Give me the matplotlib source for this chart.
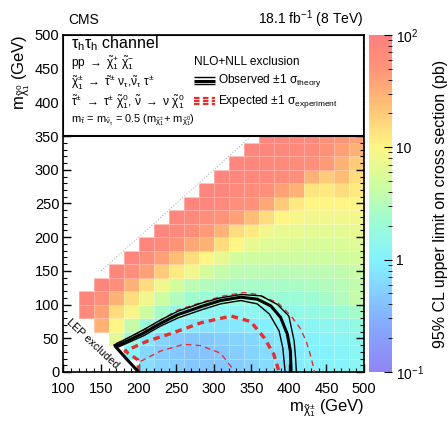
import numpy as np
import matplotlib
matplotlib.use("Agg")
import matplotlib.pyplot as plt
import matplotlib.patches as patches
from matplotlib.colors import LinearSegmentedColormap, LogNorm

plt.rcParams['font.family'] = ['Liberation Sans', 'DejaVu Sans']
plt.rcParams['mathtext.fontset'] = 'custom'
plt.rcParams['mathtext.rm'] = 'Liberation Sans'
plt.rcParams['mathtext.it'] = 'Liberation Sans'
plt.rcParams['mathtext.default'] = 'regular'

# bin edges (GeV)
chargino_edges = list(range(100, 520, 20))
neutralino_edges = list(range(0, 380, 20))

n = np.nan
# upper limit on cross section (pb), one row per neutralino bin (0 .. 340 GeV)
limits = [
    [n, n, n, n, n, 0.7, 0.55, 0.5, 0.45, 0.45, 0.45, 0.5, 0.55, 0.65, 0.75, 0.85, 0.95, 1.0, 1.1, 1.2],
    [n, n, n, n, 1.0, 0.6, 0.5, 0.45, 0.42, 0.42, 0.45, 0.5, 0.55, 0.65, 0.75, 0.85, 0.95, 1.0, 1.1, 1.2],
    [n, n, n, 6, 1.8, 0.8, 0.55, 0.5, 0.45, 0.45, 0.5, 0.55, 0.6, 0.7, 0.8, 0.9, 1.0, 1.1, 1.2, 1.3],
    [n, n, 30, 10, 4, 2.0, 1.2, 0.9, 0.8, 0.75, 0.75, 0.8, 0.85, 0.9, 1.0, 1.1, 1.2, 1.3, 1.4, 1.6],
    [n, 70, 40, 15, 9, 4.5, 2.5, 1.6, 1.3, 1.2, 1.2, 1.2, 1.3, 1.3, 1.4, 1.5, 1.6, 1.8, 2.0, 2.5],
    [n, 80, 60, 30, 15, 8, 4.5, 3, 2.3, 2.0, 1.9, 1.9, 1.9, 2.0, 2.0, 2.1, 2.2, 2.5, 3.0, 4.0],
    [n, n, 80, 60, 30, 15, 8, 5, 3.5, 3, 2.8, 2.6, 2.6, 2.6, 2.6, 2.7, 2.8, 3.0, 3.3, 3.8],
    [n, n, n, 80, 60, 40, 20, 12, 8, 5, 4, 3.5, 3.5, 3.4, 3.4, 3.5, 3.5, 3.6, 3.8, 4.2],
    [n, n, n, n, 80, 60, 40, 25, 15, 10, 7, 5, 4.5, 4.5, 4.5, 4.5, 4.5, 4.5, 4.8, 5],
    [n, n, n, n, n, 80, 70, 50, 35, 30, 15, 10, 7, 6, 6, 5.5, 5.5, 5.5, 5.5, 6],
    [n, n, n, n, n, n, 80, 70, 60, 45, 30, 15, 12, 8, 7, 7, 6.5, 6.5, 6.5, 7],
    [n, n, n, n, n, n, n, 80, 70, 60, 50, 40, 25, 15, 10, 9, 8, 8, 8, 8],
    [n, n, n, n, n, n, n, n, 80, 80, 70, 60, 55, 35, 20, 12, 10, 10, 10, 10],
    [n, n, n, n, n, n, n, n, n, 80, 80, 70, 65, 60, 40, 30, 13, 12, 15, 12],
    [n, n, n, n, n, n, n, n, n, n, 80, 80, 75, 70, 65, 60, 30, 20, 25, 15],
    [n, n, n, n, n, n, n, n, n, n, n, 80, 80, 75, 70, 65, 60, 45, 30, 20],
    [n, n, n, n, n, n, n, n, n, n, n, n, 80, 80, 75, 70, 65, 55, 40, 30],
    [n, n, n, n, n, n, n, n, n, n, n, n, n, 80, 80, 75, 70, 60, 50, 40],
]

# exclusion contours (m_chargino, m_neutralino) in GeV
obs_x = [200, 185, 169, 185, 207, 229, 252, 283, 309, 336, 358, 376, 389, 398, 402, 403]
obs_y = [0, 18, 38, 46, 58, 72, 85, 97, 106, 111, 108, 98, 81, 56, 31, 0]
obs_up_x = [200, 185, 167, 185, 207, 229, 252, 283, 309, 336, 363, 385, 400, 407, 409, 410]
obs_up_y = [0, 18, 40, 50, 63, 77, 90, 102, 110, 115, 113, 100, 83, 46, 20, 0]
obs_dn_x = [200, 185, 171, 185, 207, 229, 252, 283, 309, 336, 358, 374, 387, 392, 395]
obs_dn_y = [0, 18, 36, 43, 54, 68, 80, 92, 101, 106, 101, 86, 61, 35, 0]
exp_x = [200, 199, 182, 212, 243, 283, 323, 349, 367, 380, 387]
exp_y = [0, 18, 31, 46, 57, 73, 83, 75, 51, 26, 0]
exp_up_x = [170, 207, 252, 309, 340, 358, 385, 403, 415, 423, 430, 434]
exp_up_y = [42, 62, 92, 112, 118, 115, 103, 83, 65, 46, 20, 0]
exp_dn_x = [199, 203, 229, 260, 283, 309, 323, 326]
exp_dn_y = [2, 16, 31, 41, 39, 28, 8, 0]

cmap = LinearSegmentedColormap.from_list("pastel_rainbow", [
    (0.00, (0.56, 0.52, 0.95)),
    (0.15, (0.52, 0.68, 1.00)),
    (0.33, (0.52, 0.95, 1.00)),
    (0.45, (0.62, 0.99, 0.82)),
    (0.56, (0.82, 0.99, 0.62)),
    (0.67, (1.00, 0.96, 0.52)),
    (0.80, (1.00, 0.74, 0.46)),
    (0.90, (1.00, 0.58, 0.47)),
    (1.00, (1.00, 0.50, 0.50)),
])

fig = plt.figure(figsize=(4.48, 4.34), dpi=100)
ax = fig.add_axes([0.1417, 0.1429, 0.6708, 0.7765])
cax = fig.add_axes([0.8237, 0.1429, 0.0513, 0.7765])

Z = np.ma.masked_invalid(np.array(limits))
mesh = ax.pcolormesh(chargino_edges, neutralino_edges, Z, cmap=cmap,
                     norm=LogNorm(vmin=0.1, vmax=100),
                     edgecolors=(1, 1, 1, 0.3), linewidth=0.4, zorder=1)

# m_chi0 = m_chi+- diagonal
ax.plot([150, 350], [150, 350], color='#bbbbbb', ls=':', lw=0.8, zorder=2)

red = '#e3302b'
ax.plot(exp_up_x, exp_up_y, color=red, lw=1.0, dashes=(4, 3), zorder=3)
ax.plot(exp_dn_x, exp_dn_y, color=red, lw=1.0, dashes=(4, 3), zorder=3)
ax.plot(exp_x, exp_y, color=red, lw=2.4, dashes=(2, 1.5), zorder=3)
ax.plot(obs_up_x, obs_up_y, color='black', lw=1.0, zorder=4)
ax.plot(obs_dn_x, obs_dn_y, color='black', lw=1.0, zorder=4)
ax.plot(obs_x, obs_y, color='black', lw=2.2, zorder=4)

ax.text(139, 42, "LEP excluded", rotation=-43, fontsize=7.8, ha='center', va='center', zorder=4)

ax.set_xlim(100, 500)
ax.set_ylim(0, 500)
ax.set_xticks(range(100, 550, 50))
ax.set_yticks(range(0, 550, 50))
ax.set_xticks(range(100, 510, 10), minor=True)
ax.set_yticks(range(0, 510, 10), minor=True)
ax.tick_params(which='both', direction='in', right=True, top=False, labelsize=10.5)
ax.tick_params(axis='x', which='major', pad=7)
ax.tick_params(axis='y', which='major', pad=3)
ax.tick_params(which='major', length=6, width=1)
ax.tick_params(which='minor', length=3, width=0.8)
for s in ax.spines.values():
    s.set_linewidth(1.2)

ax.set_xlabel(r"m$_{\tilde{\chi}^{\pm}_{1}}$ (GeV)", fontsize=12, loc='right', labelpad=1)
ax.set_ylabel(r"m$_{\tilde{\chi}^{0}_{1}}$ (GeV)", fontsize=12, loc='top', labelpad=2)

# legend box
box = patches.Rectangle((100, 350), 400, 150, facecolor='white', edgecolor='black', lw=1.5, zorder=5)
ax.add_patch(box)
fs = 8.6
ax.text(110, 487, r"$\tau_h\tau_h$ channel", fontsize=11.5, va='center', zorder=6)
ax.text(110, 458, r"pp $\rightarrow$ $\tilde{\chi}^{+}_{1}$ $\tilde{\chi}^{-}_{1}$", fontsize=fs, va='center', zorder=6)
ax.text(110, 430, r"$\tilde{\chi}^{\pm}_{1}$ $\rightarrow$ $\tilde{\tau}^{\pm}$ $\nu_{\tau}$,$\tilde{\nu}_{\tau}$ $\tau^{\pm}$",
        fontsize=fs, va='center', zorder=6)
ax.text(110, 401, r"$\tilde{\tau}^{\pm}$ $\rightarrow$ $\tau^{\pm}$ $\tilde{\chi}^{0}_{1}$, $\tilde{\nu}$ $\rightarrow$ $\nu$ $\tilde{\chi}^{0}_{1}$",
        fontsize=fs, va='center', zorder=6)
ax.text(110, 374, r"m$_{\tilde{\tau}}$ = m$_{\tilde{\nu}_{\tau}}$ = 0.5 (m$_{\tilde{\chi}^{\pm}_{1}}$+ m$_{\tilde{\chi}^{0}_{1}}$)",
        fontsize=fs * 0.92, va='center', zorder=6)
ax.text(274, 460, "NLO+NLL exclusion", fontsize=fs, va='center', zorder=6)
for dy, lw in [(5, 1.0), (0, 2.2), (-5, 1.0)]:
    ax.plot([274, 302], [432 + dy, 432 + dy], color='black', lw=lw, zorder=6, solid_capstyle='butt')
for dy, lw in [(5, 1.6), (0, 1.6), (-5, 1.6)]:
    ax.plot([274, 302], [402 + dy, 402 + dy], color=red, lw=lw, dashes=(2.5, 1.5), zorder=6)
ax.text(306, 432, r"Observed $\pm$1 $\sigma_{\mathrm{theory}}$", fontsize=fs, va='center', zorder=6)
ax.text(306, 402, r"Expected $\pm$1 $\sigma_{\mathrm{experiment}}$", fontsize=fs, va='center', zorder=6)

# colorbar
cb = fig.colorbar(mesh, cax=cax)
cb.outline.set_visible(False)
cb.set_ticks([0.1, 1, 10, 100])
cb.set_ticklabels([r"10$^{-1}$", "1", "10", r"10$^{2}$"])
cax.tick_params(which='major', direction='in', length=6, labelsize=10, pad=3)
cax.tick_params(which='minor', direction='in', length=3)
cb.set_label("95% CL upper limit on cross section (pb)", fontsize=11.5, labelpad=6)

fig.text(0.152, 0.955, "CMS", fontsize=10, va='center')
fig.text(0.81, 0.955, r"18.1 fb$^{-1}$ (8 TeV)", fontsize=10, va='center', ha='right')

fig.savefig("out.png", dpi=100)
